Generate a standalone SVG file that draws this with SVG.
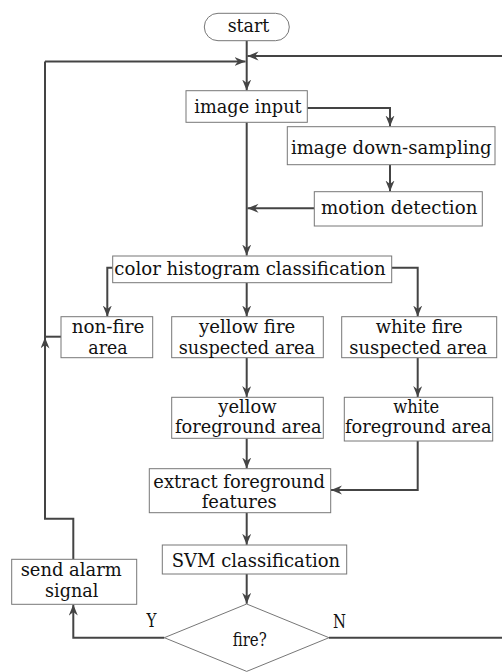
<svg xmlns="http://www.w3.org/2000/svg" width="502" height="672" viewBox="0 0 502 672">
<defs>
<marker id="ah" markerUnits="userSpaceOnUse" markerWidth="12" markerHeight="10" refX="11" refY="4.5" orient="auto">
<path d="M0,0 L11,4.5 L0,9 L3.5,4.5 z" fill="#444"/>
</marker>
<style>
.box{fill:#fff;stroke:#777;stroke-width:1}
.ln{fill:none;stroke:#444;stroke-width:2}
.ar{fill:none;stroke:#444;stroke-width:2;marker-end:url(#ah)}
text{font-family:"DejaVu Serif","Liberation Serif",serif;font-size:18px;fill:#111;text-anchor:middle}
</style>
</defs>
<rect width="502" height="672" fill="#fff"/>
<g id="connectors">
<path class="ln" d="M246.7,40.7 V56"/>
<path class="ar" d="M502,56 H247.5"/>
<path class="ar" d="M246.7,56 V90.5"/>
<path class="ar" d="M45,61.5 H245.5"/>
<path class="ar" d="M307.3,108 H390 V126.5"/>
<path class="ar" d="M390,164.7 V191.5"/>
<path class="ar" d="M314.3,208.3 H247.5"/>
<path class="ar" d="M246.7,122.3 V255.5"/>
<path class="ar" d="M112.7,267.7 H107.3 V316.5"/>
<path class="ar" d="M391.7,267.7 H417.7 V316.5"/>
<path class="ar" d="M246.7,282.7 V316.5"/>
<path class="ar" d="M246.7,357.7 V397"/>
<path class="ar" d="M417.7,357.7 V397"/>
<path class="ar" d="M246.7,438.3 V468.5"/>
<path class="ar" d="M417.7,441 V490 H331"/>
<path class="ar" d="M246.7,512.7 V544.8"/>
<path class="ar" d="M246.7,574 V603.8"/>
<path class="ar" d="M164.3,637.7 H73.3 V604.6"/>
<path class="ln" d="M502,637.7 H329"/>
<path class="ar" d="M73.3,559.3 V518.7 H45 V337.5"/>
<path class="ln" d="M45,338 V61.5"/>
<path class="ln" d="M61,336.7 H45"/>
<text x="151.5" y="626.7" textLength="10" lengthAdjust="spacingAndGlyphs">Y</text>
<text x="339.5" y="627.5" textLength="13" lengthAdjust="spacingAndGlyphs">N</text>
</g>
<g id="start">
<rect class="box" x="204.3" y="13.3" width="85" height="27.4" rx="13.7"/>
<text x="248.5" y="32.3" textLength="41.7" lengthAdjust="spacingAndGlyphs">start</text>
</g>
<g id="image-input">
<rect class="box" x="186" y="90.7" width="121.3" height="31.6"/>
<text x="248" y="113.3" textLength="107.3" lengthAdjust="spacingAndGlyphs">image input</text>
</g>
<g id="down-sampling">
<rect class="box" x="287.3" y="126.7" width="207.7" height="38"/>
<text x="391.3" y="154.3" textLength="200.7" lengthAdjust="spacingAndGlyphs">image down-sampling</text>
</g>
<g id="motion-detection">
<rect class="box" x="314.3" y="191.7" width="168" height="34.3"/>
<text x="399.2" y="214.3" textLength="156.3" lengthAdjust="spacingAndGlyphs">motion detection</text>
</g>
<g id="color-histogram">
<rect class="box" x="112.7" y="256" width="279" height="26.7"/>
<text x="250" y="275" textLength="271.3" lengthAdjust="spacingAndGlyphs">color histogram classification</text>
</g>
<g id="non-fire">
<rect class="box" x="61" y="316.7" width="91.7" height="41"/>
<text x="108" y="333.3" textLength="72.7" lengthAdjust="spacingAndGlyphs">non-fire</text>
<text x="108" y="354" textLength="39.3" lengthAdjust="spacingAndGlyphs">area</text>
</g>
<g id="yellow-fire">
<rect class="box" x="171.7" y="316.7" width="151.6" height="41"/>
<text x="247.2" y="333.3" textLength="96.3" lengthAdjust="spacingAndGlyphs">yellow fire</text>
<text x="246.9" y="354" textLength="136.3" lengthAdjust="spacingAndGlyphs">suspected area</text>
</g>
<g id="white-fire">
<rect class="box" x="341.7" y="316.7" width="155" height="41"/>
<text x="419.2" y="333.3" textLength="87" lengthAdjust="spacingAndGlyphs">white fire</text>
<text x="418.3" y="354" textLength="138" lengthAdjust="spacingAndGlyphs">suspected area</text>
</g>
<g id="yellow-foreground">
<rect class="box" x="171.7" y="397.3" width="151.6" height="41"/>
<text x="247.5" y="413.3" textLength="58.3" lengthAdjust="spacingAndGlyphs">yellow</text>
<text x="248.3" y="433.3" textLength="146.7" lengthAdjust="spacingAndGlyphs">foreground area</text>
</g>
<g id="white-foreground">
<rect class="box" x="344.3" y="397.3" width="148.4" height="43.7"/>
<text x="416.3" y="413.3" textLength="46" lengthAdjust="spacingAndGlyphs">white</text>
<text x="418.3" y="433.3" textLength="146.7" lengthAdjust="spacingAndGlyphs">foreground area</text>
</g>
<g id="extract-features">
<rect class="box" x="149.3" y="468.7" width="181.4" height="44"/>
<text x="239.2" y="488.3" textLength="171.7" lengthAdjust="spacingAndGlyphs">extract foreground</text>
<text x="239.2" y="508.3" textLength="75" lengthAdjust="spacingAndGlyphs">features</text>
</g>
<g id="svm">
<rect class="box" x="162.3" y="545" width="184.4" height="29"/>
<text x="255.9" y="566.7" textLength="168.3" lengthAdjust="spacingAndGlyphs">SVM classification</text>
</g>
<g id="send-alarm">
<rect class="box" x="11.7" y="559.3" width="125" height="45"/>
<text x="71.2" y="576" textLength="101" lengthAdjust="spacingAndGlyphs">send alarm</text>
<text x="71.7" y="596.7" textLength="53.3" lengthAdjust="spacingAndGlyphs">signal</text>
</g>
<g id="fire-decision">
<polygon class="box" points="246.7,604 329,637.7 246.7,671.4 164.3,637.7"/>
<text x="249.7" y="646" textLength="34" lengthAdjust="spacingAndGlyphs">fire?</text>
</g>
</svg>
